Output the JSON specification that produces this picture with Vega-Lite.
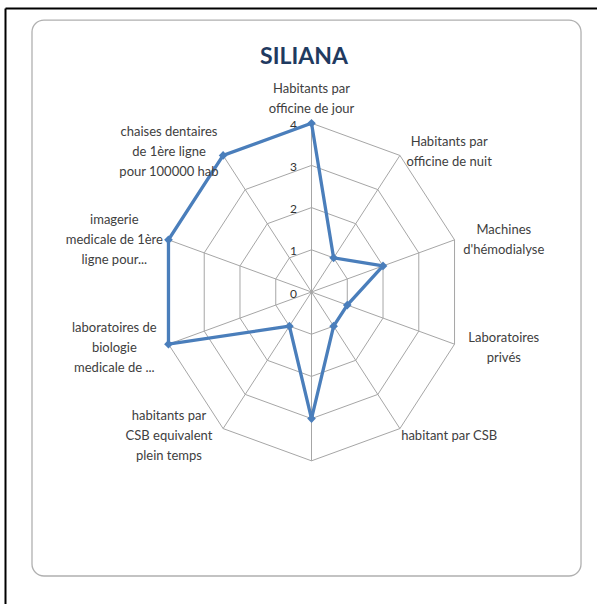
{
  "$schema": "https://vega.github.io/schema/vega-lite/v6.json",
  "width": 592,
  "height": 596,
  "padding": {"left": 5, "top": 8, "right": 0, "bottom": 0},
  "autosize": {"type": "none"},
  "background": "white",
  "title": {"text": "SILIANA", "font": "Lato", "fontSize": 23, "fontWeight": "bold", "color": "#1F3A60", "anchor": "middle", "frame": "group", "orient": "top", "baseline": "alphabetic", "offset": -54, "dx": 3, "dy": 25},
  "config": {"view": {"stroke": null}},
  "datasets": {
    "scores": [
      {"indicateur": "Habitants par\nofficine de jour", "score": 4},
      {"indicateur": "Habitants par\nofficine de nuit", "score": 1},
      {"indicateur": "Machines\nd'hémodialyse", "score": 2},
      {"indicateur": "Laboratoires\nprivés", "score": 1},
      {"indicateur": "habitant par CSB", "score": 1},
      {"indicateur": "", "score": 3},
      {"indicateur": "habitants par\nCSB equivalent\nplein temps", "score": 1},
      {"indicateur": "laboratoires de\nbiologie\nmedicale de ...", "score": 4},
      {"indicateur": "imagerie\nmedicale de 1ère\nligne pour...", "score": 4},
      {"indicateur": "chaises dentaires\nde 1ère ligne\npour 100000 hab", "score": 4}
    ]
  },
  "data": {"name": "scores"},
  "transform": [
    {"window": [{"op": "row_number", "as": "idx"}]},
    {"joinaggregate": [{"op": "count", "as": "n"}]},
    {"calculate": "2*PI*(datum.idx-1)/datum.n", "as": "angle"},
    {"calculate": "sin(datum.angle)", "as": "s"},
    {"calculate": "cos(datum.angle)", "as": "c"},
    {"calculate": "0", "as": "origin"}
  ],
  "layer": [
    {
      "data": {"values": [{}]},
      "mark": {"type": "rect", "fill": "white", "stroke": "#B0B0B0", "strokeWidth": 1.3, "cornerRadius": 12},
      "encoding": {
        "x": {"datum": -7.434, "type": "quantitative", "scale": {"domain": [-8.152, 7.593], "nice": false, "zero": false}, "axis": {"orient": "top", "domainColor": "black", "domainWidth": 2, "ticks": false, "labels": false, "grid": false, "title": null}},
        "x2": {"datum": 7.168},
        "y": {"datum": 6.445, "type": "quantitative", "scale": {"domain": [-7.393, 6.73], "nice": false, "zero": false}, "axis": {"orient": "left", "domainColor": "black", "domainWidth": 2, "ticks": false, "labels": false, "grid": false, "title": null}},
        "y2": {"datum": -6.73}
      }
    },
    {
      "transform": [
        {"calculate": "4*datum.s", "as": "sx"},
        {"calculate": "4*datum.c", "as": "sy"}
      ],
      "mark": {"type": "rule", "stroke": "#A6A6A6", "strokeWidth": 1},
      "encoding": {
        "x": {"field": "origin", "type": "quantitative"},
        "y": {"field": "origin", "type": "quantitative"},
        "x2": {"field": "sx"},
        "y2": {"field": "sy"}
      }
    },
    {
      "transform": [
        {"calculate": "[1,2,3,4]", "as": "lvs"},
        {"flatten": ["lvs"], "as": ["lv"]},
        {"calculate": "datum.lv*datum.s", "as": "gx"},
        {"calculate": "datum.lv*datum.c", "as": "gy"}
      ],
      "mark": {"type": "line", "interpolate": "linear-closed", "stroke": "#A6A6A6", "strokeWidth": 1},
      "encoding": {
        "x": {"field": "gx", "type": "quantitative"},
        "y": {"field": "gy", "type": "quantitative"},
        "detail": {"field": "lv", "type": "nominal"},
        "order": {"field": "idx", "type": "quantitative"}
      }
    },
    {
      "transform": [
        {"filter": "datum.idx == 1"},
        {"calculate": "[0,1,2,3,4]", "as": "lvs"},
        {"flatten": ["lvs"], "as": ["lv"]},
        {"calculate": "datum.lv*datum.c", "as": "gy"}
      ],
      "mark": {"type": "text", "align": "right", "baseline": "middle", "dx": -14.5, "dy": 1.5, "font": "Lato", "fontSize": 12, "color": "#333333"},
      "encoding": {
        "x": {"field": "origin", "type": "quantitative"},
        "y": {"field": "gy", "type": "quantitative"},
        "text": {"field": "lv", "type": "quantitative"}
      }
    },
    {
      "transform": [
        {"calculate": "datum.score*datum.s", "as": "vx"},
        {"calculate": "datum.score*datum.c", "as": "vy"}
      ],
      "mark": {"type": "line", "interpolate": "linear-closed", "stroke": "#4A7EBB", "strokeWidth": 3.3},
      "encoding": {
        "x": {"field": "vx", "type": "quantitative"},
        "y": {"field": "vy", "type": "quantitative"},
        "order": {"field": "idx", "type": "quantitative"}
      }
    },
    {
      "transform": [
        {"calculate": "datum.score*datum.s", "as": "vx"},
        {"calculate": "datum.score*datum.c", "as": "vy"}
      ],
      "mark": {"type": "point", "shape": "diamond", "filled": true, "size": 75, "color": "#4A7EBB", "opacity": 1},
      "encoding": {
        "x": {"field": "vx", "type": "quantitative"},
        "y": {"field": "vy", "type": "quantitative"}
      }
    },
    {
      "transform": [
        {"calculate": "length(split(datum.indicateur, '\\n'))", "as": "nl"},
        {"calculate": "4*datum.s + (abs(datum.s) < 0.01 ? 0 : (datum.s > 0 ? 1.31 : -1.44))", "as": "lx"},
        {"calculate": "4*datum.c + (abs(datum.s) < 0.01 ? 0.62*datum.c : 0.16*datum.c) + 0.237*(datum.nl - 1)", "as": "ly"}
      ],
      "mark": {"type": "text", "align": "center", "baseline": "middle", "dy": 2, "font": "Lato", "fontSize": 13, "lineHeight": 20, "lineBreak": "\n", "color": "#404040"},
      "encoding": {
        "x": {"field": "lx", "type": "quantitative"},
        "y": {"field": "ly", "type": "quantitative"},
        "text": {"field": "indicateur", "type": "nominal"}
      }
    }
  ]
}
